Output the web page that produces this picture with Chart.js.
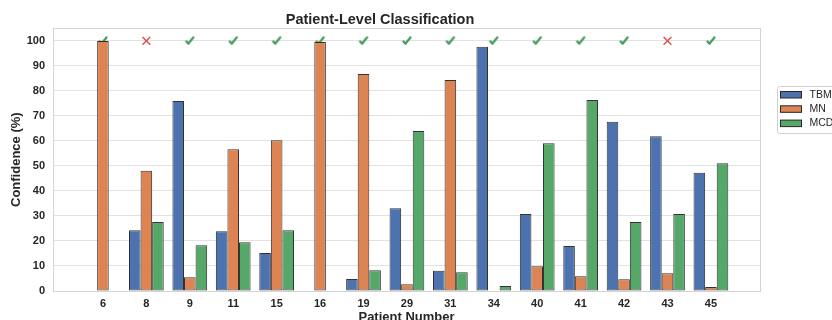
<!DOCTYPE html>
<html>
<head>
<meta charset="utf-8">
<script src="https://cdn.jsdelivr.net/npm/chart.js@4.4.1/dist/chart.umd.min.js"></script>
<style>
  html, body { margin: 0; padding: 0; background: #fff; overflow: hidden; }
  #wrap { width: 832px; height: 320px; }
</style>
</head>
<body>
<div id="wrap"><canvas id="myChart" width="832" height="320"></canvas></div>
<script>
// data
const patients = ['6', '8', '9', '11', '15', '16', '19', '29', '31', '34', '40', '41', '42', '43', '45'];
const tbmi = [0, 24.3, 76.0, 23.9, 15.2, 0, 4.8, 33.1, 8.1, 97.7, 30.8, 18.0, 67.7, 61.9, 47.3];
const mn   = [100, 48.1, 5.5, 56.7, 60.3, 99.6, 86.8, 2.7, 84.4, 0, 9.9, 5.9, 4.7, 7.1, 1.6];
const mcd  = [0, 27.6, 18.3, 19.5, 24.3, 0.2, 8.3, 64.0, 7.5, 2.0, 59.1, 76.4, 27.6, 30.8, 51.1];
// 1 = predicted correctly (check), 0 = wrong (cross)
const correct = [1, 0, 1, 1, 1, 1, 1, 1, 1, 1, 1, 1, 1, 0, 1];
const yTicks = [0, 10, 20, 30, 40, 50, 60, 70, 80, 90, 100];

const colors = { TBMI: '#4C72B0', MN: '#DD8452', MCD: '#55A868' };
const textColor = '#262626';
const markY = 100;

// little canvas used as point style for the check marks
function makeCheck() {
    const c = document.createElement('canvas');
    c.width = 14; c.height = 14;
    const g = c.getContext('2d');
    g.strokeStyle = '#4a9c5d';
    g.lineWidth = 2.3;
    g.lineCap = 'round';
    g.lineJoin = 'round';
    g.beginPath();
    g.moveTo(3.5, 7.5);
    g.lineTo(5.5, 9.8);
    g.lineTo(10.5, 3.5);
    g.stroke();
    return c;
}
const checkImg = makeCheck();

const toXY = arr => arr.map((v, i) => ({ x: i, y: v }));

function barSet(label, values) {
    return {
        type: 'bar',
        label,
        data: toXY(values),
        backgroundColor: colors[label],
        borderColor: 'rgba(34,34,34,0.92)',
        borderWidth: 1,
        borderSkipped: false,
        categoryPercentage: 0.8,
        barPercentage: 1.0,
        order: 0
    };
}

// frame around the plot + legend drawn by hand (matplotlib style)
const framePlugin = {
    id: 'frame',
    beforeDatasetsDraw(chart) {
        const { ctx, chartArea: a } = chart;
        ctx.save();
        ctx.strokeStyle = '#d4d4d4';
        ctx.lineWidth = 1;
        ctx.strokeRect(Math.round(a.left) + 0.5, Math.round(a.top) + 0.5,
                       Math.round(a.right - a.left), Math.round(a.bottom - a.top));
        ctx.restore();
    },
    afterDraw(chart) {
        const ctx = chart.ctx;
        const names = ['TBMI', 'MN', 'MCD'];
        ctx.save();
        ctx.fillStyle = '#fff';
        ctx.strokeStyle = '#d0d0d0';
        ctx.lineWidth = 1;
        ctx.beginPath();
        ctx.roundRect(777.5, 86.5, 70, 47, 2);
        ctx.fill();
        ctx.stroke();
        ctx.font = '10.5px "Liberation Sans"';
        ctx.textBaseline = 'middle';
        names.forEach((n, i) => {
            const cy = 94.5 + i * 14.3;
            ctx.fillStyle = colors[n];
            ctx.fillRect(780.5, cy - 3, 21, 6.5);
            ctx.strokeStyle = '#262626';
            ctx.strokeRect(780.5, cy - 3, 21, 6.5);
            ctx.fillStyle = textColor;
            ctx.fillText(n, 809.5, cy + 0.5);
        });
        ctx.restore();
    }
};

const ctx = document.getElementById('myChart');

new Chart(ctx, {
    data: {
        datasets: [
            barSet('TBMI', tbmi),
            barSet('MN', mn),
            barSet('MCD', mcd),
            {
                type: 'scatter',
                label: 'correct',
                data: correct.map((c, i) => c ? { x: i, y: markY } : null).filter(Boolean),
                pointStyle: checkImg,
                order: 2
            },
            {
                type: 'scatter',
                label: 'wrong',
                data: correct.map((c, i) => c ? null : { x: i, y: markY }).filter(Boolean),
                pointStyle: 'crossRot',
                radius: 5.5,
                borderColor: '#d9534f',
                borderWidth: 1.5,
                order: 2
            }
        ]
    },
    options: {
        responsive: false,
        animation: false,
        devicePixelRatio: 1,
        layout: { padding: { left: 0, right: 72, top: 0, bottom: 0 } },
        plugins: {
            legend: { display: false },
            tooltip: { enabled: false },
            title: {
                display: true,
                text: 'Patient-Level Classification',
                color: textColor,
                font: { family: 'Liberation Sans', size: 14.5, weight: 'bold' },
                padding: { top: 11, bottom: 0 }
            }
        },
        scales: {
            x: {
                type: 'linear',
                min: -1.15,
                max: 15.13,
                offset: false,
                grid: { display: false, drawTicks: false },
                border: { display: false },
                afterBuildTicks: s => { s.ticks = patients.map((p, i) => ({ value: i })); },
                afterFit: s => { s.height = 29; },
                ticks: {
                    autoSkip: false,
                    maxRotation: 0,
                    padding: 6,
                    color: textColor,
                    font: { family: 'Liberation Sans', size: 11, weight: 'bold' },
                    callback: v => patients[v]
                },
                title: {
                    display: true,
                    text: 'Patient Number',
                    color: textColor,
                    font: { family: 'Liberation Sans', size: 13, weight: 'bold' },
                    padding: { top: 0, bottom: -5 }
                }
            },
            y: {
                min: 0,
                max: 105,
                grid: { color: '#e2e2e2', lineWidth: 1, drawTicks: false },
                border: { display: false },
                afterBuildTicks: s => { s.ticks = yTicks.map(v => ({ value: v })); },
                afterFit: s => { s.width = 53; },
                ticks: {
                    padding: 8,
                    color: textColor,
                    font: { family: 'Liberation Sans', size: 11, weight: 'bold' }
                },
                title: {
                    display: true,
                    text: 'Confidence (%)',
                    color: textColor,
                    font: { family: 'Liberation Sans', size: 13, weight: 'bold' },
                    padding: { top: 9, bottom: 0 }
                }
            }
        }
    },
    plugins: [framePlugin]
});
</script>
</body>
</html>
